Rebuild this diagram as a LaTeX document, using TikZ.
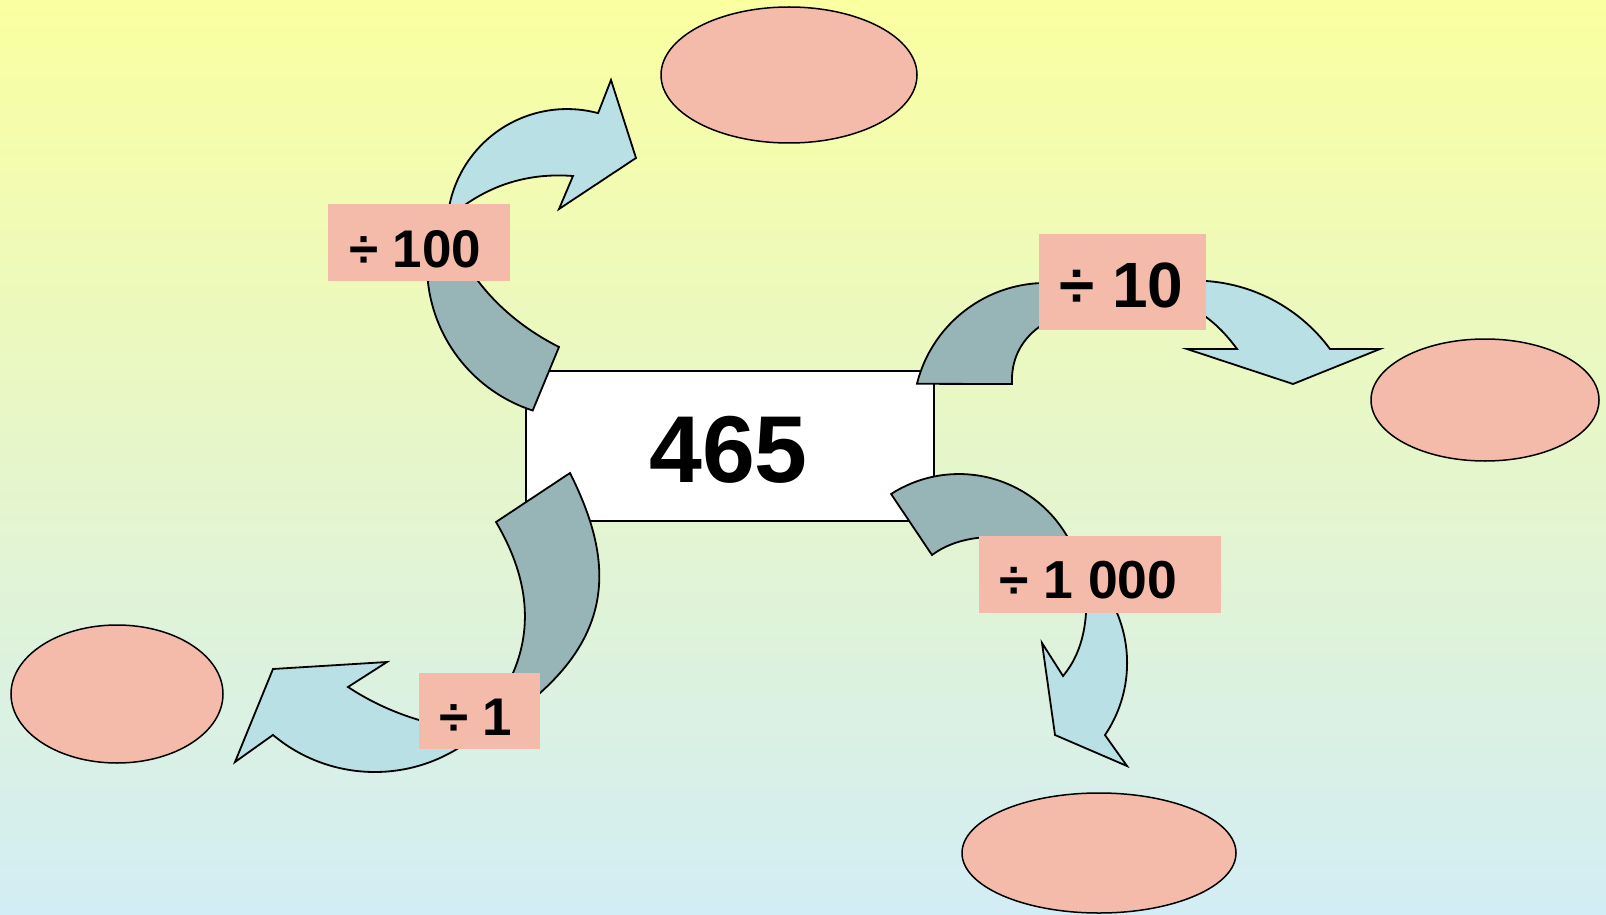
\documentclass[tikz,border=0pt]{standalone}
\usepackage{fontspec}
\setmainfont{Liberation Sans}
\usetikzlibrary{shapes.geometric}

\definecolor{bgtop}{RGB}{250,255,160}
\definecolor{bgbot}{RGB}{210,237,245}
\definecolor{salmon}{RGB}{244,186,170}
\definecolor{backband}{RGB}{151,180,182}
\definecolor{frontband}{RGB}{185,224,229}

\tikzset{
  outline/.style={draw=black, line width=1.8pt, line join=miter},
  backpart/.style={outline, fill=backband},
  frontpart/.style={outline, fill=frontband},
  tagbox/.style={fill=salmon, draw=none, inner sep=0pt, anchor=north west},
  tagtext/.style={font=\bfseries, inner sep=0pt, anchor=base west},
  answer/.style={ellipse, draw=black, line width=1.5pt, fill=salmon, inner sep=0pt},
}

\begin{document}
\begin{tikzpicture}[x=1pt, y=-1pt]
\useasboundingbox (0,0) rectangle (1606,915);
\shade[top color=bgtop, bottom color=bgbot] (0,0) rectangle (1606,915);

% central number
\node[draw=black, line width=1.5pt, fill=white, minimum width=408pt, minimum height=150pt,
      inner sep=0pt, anchor=north west] (num) at (525,370) {};
\node[font=\fontsize{95}{95}\selectfont\bfseries, inner sep=0pt, anchor=base] (numtext) at (728.5,482) {465};

% divide by 100 (up-left)
\draw[backpart] (440,275) -- (427.8,281) arc[start angle=174, end angle=108, radius=153]
  -- (559,347) .. controls (526,330.3) and (499,308.3) .. (478,281)
  -- (470,266) -- cycle;
\draw[frontpart] (447.7,216.5) arc[start angle=186, end angle=285, radius=120]
  -- (611,80) -- (636,158) -- (559,209) -- (573,176)
  .. controls (530,172.7) and (491.7,184) .. (458,210) -- cycle;

% divide by 10 (right)
\draw[backpart] (916.95,383.8) arc[start angle=194, end angle=276, radius=133]
  -- (1050,322) -- (1039,327) .. controls (1020,341.3) and (1011,360.3) .. (1012,384)
  -- cycle;
\draw[frontpart] (1188.7,280.7) arc[start angle=268, end angle=323.6, radius=168.3]
  -- (1380,349) -- (1293,384) -- (1187,349) -- (1237,349)
  .. controls (1227.3,335.7) and (1217,325) .. (1206,317)
  -- (1195,313) -- cycle;

% divide by 1 000 (down-right)
\draw[backpart] (1076.55,556.4) arc[start angle=340, end angle=237.2, radius=125.2]
  -- (932,555) .. controls (947.3,543.7) and (966.7,537.7) .. (990,537)
  -- (1000,545) -- cycle;
\draw[frontpart] (1109.86,598.55) arc[start angle=330, end angle=394.1, radius=128.7]
  -- (1127,766) -- (1055,735) -- (1042,643) -- (1063,676)
  .. controls (1076.7,659.7) and (1084.3,638.7) .. (1086,613)
  -- (1088,600) -- cycle;

% divide by 1 (down-left)
\draw[backpart] (570,473) .. controls (608.1,549.2) and (619.3,622.2) .. (540,693)
  -- (530,700) -- (508,685) -- (513,673)
  .. controls (533.3,626) and (527.7,575.7) .. (496,522) -- cycle;
\draw[frontpart] (476.62,734.94) arc[start angle=50, end angle=130, radius=158.4]
  -- (235,762) -- (273,669) -- (387,662) -- (348,687)
  .. controls (369.7,701.3) and (393.3,712.3) .. (419,720)
  -- (430,722) -- cycle;

% operation tags
\node[tagbox, minimum width=182pt, minimum height=77pt] (tag100) at (328,204) {};
\node[tagtext, font=\fontsize{53}{53}\selectfont\bfseries] (t100) at (349,267) {÷ 100};
\node[tagbox, minimum width=167pt, minimum height=96pt] (tag10) at (1039,234) {};
\node[tagtext, font=\fontsize{64}{64}\selectfont\bfseries] (t10) at (1059,307) {÷ 10};
\node[tagbox, minimum width=242pt, minimum height=77pt] (tag1000) at (979,536) {};
\node[tagtext, font=\fontsize{53.5}{53.5}\selectfont\bfseries] (t1000) at (999,598) {÷ 1 000};
\node[tagbox, minimum width=121pt, minimum height=76pt] (tag1) at (419,673) {};
\node[tagtext, font=\fontsize{53}{53}\selectfont\bfseries] (t1) at (439,735) {÷ 1};

% empty answer ellipses
\node[answer, minimum width=256pt, minimum height=136pt] (ans100) at (789,75) {};
\node[answer, minimum width=228pt, minimum height=122pt] (ans10) at (1485,400) {};
\node[answer, minimum width=274pt, minimum height=120pt] (ans1000) at (1099,853) {};
\node[answer, minimum width=212pt, minimum height=138pt] (ans1) at (117,694) {};
\end{tikzpicture}
\end{document}
